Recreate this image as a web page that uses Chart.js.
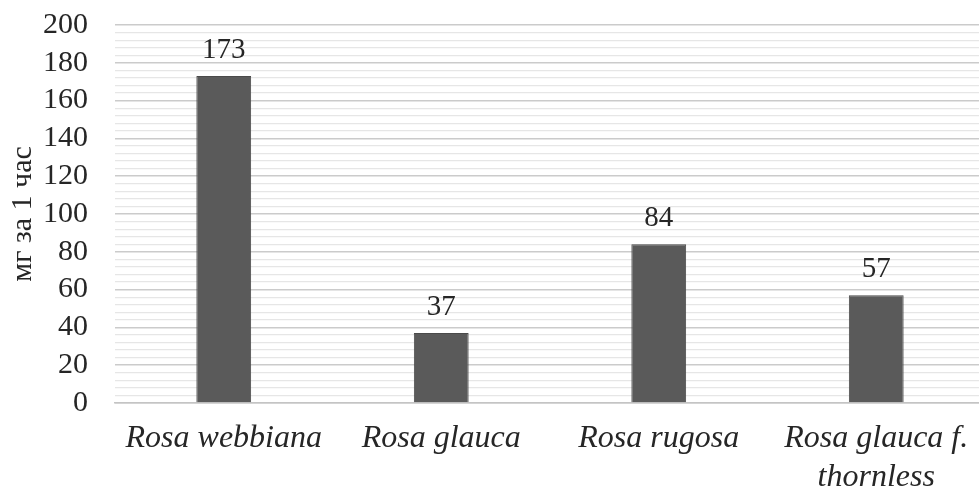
<!DOCTYPE html>
<html>
<head>
<meta charset="utf-8">
<script src="https://cdn.jsdelivr.net/npm/chart.js@4/dist/chart.umd.min.js"></script>
<style>
html,body{margin:0;padding:0;background:#fff;overflow:hidden;}
#wrap{width:985px;height:487px;}
</style>
</head>
<body>
<div id="wrap"><canvas id="c" width="985" height="487"></canvas></div>
<script>
const categories = [
  "Rosa webbiana",
  "Rosa glauca",
  "Rosa rugosa",
  ["Rosa glauca f.", "thornless"]
];
const values = [173, 37, 84, 57];
const yMin = 0, yMax = 200, yMinorStep = 4, yMajorStep = 20;
const yTitle = "мг за 1 час";

const textColor = "#262626";

const dataLabelPlugin = {
  id: "dataLabels",
  afterDatasetsDraw(chart) {
    const ctx = chart.ctx;
    const meta = chart.getDatasetMeta(0);
    ctx.save();
    ctx.font = "29px 'Liberation Serif'";
    ctx.fillStyle = textColor;
    ctx.textAlign = "center";
    ctx.textBaseline = "alphabetic";
    meta.data.forEach((bar, i) => {
      ctx.fillText(String(chart.data.datasets[0].data[i]), bar.x, bar.y - 18);
    });
    ctx.restore();
  }
};

new Chart(document.getElementById("c"), {
  type: "bar",
  data: {
    labels: categories,
    datasets: [{
      data: values,
      backgroundColor: "#5a5a5a",
      borderColor: "#4a4a4a",
      borderWidth: 1,
      barPercentage: 0.252,
      categoryPercentage: 1
    }]
  },
  options: {
    responsive: false,
    devicePixelRatio: 1,
    animation: false,
    layout: { padding: { top: 25, left: 0, right: 0, bottom: 0 } },
    plugins: { legend: { display: false }, tooltip: { enabled: false } },
    scales: {
      x: {
        grid: { display: false, drawTicks: false },
        border: { display: true, color: "#c4c4c4", width: 1.5 },
        ticks: {
          color: textColor,
          font: { family: "'Liberation Serif'", size: 32, style: "italic", lineHeight: 1.22 },
          padding: 16,
          maxRotation: 0,
          autoSkip: false
        },
        afterFit(scale) { scale.height = 84; }
      },
      y: {
        min: yMin,
        max: yMax,
        border: { display: false },
        grid: {
          drawTicks: true,
          tickLength: 27,
          tickColor: "rgba(0,0,0,0)",
          color: (c) => (c.tick && c.tick.value % yMajorStep === 0) ? "#cbcbcb" : "#e6e6e6",
          lineWidth: (c) => (c.tick && c.tick.value % yMajorStep === 0) ? 1.5 : 1.2
        },
        ticks: {
          stepSize: yMinorStep,
          autoSkip: false,
          color: textColor,
          padding: 0,
          font: { family: "'Liberation Serif'", size: 30 },
          callback: (v) => (v % yMajorStep === 0) ? String(v) : ""
        },
        title: {
          display: true,
          text: yTitle,
          color: textColor,
          font: { family: "'Liberation Serif'", size: 30 },
          padding: { top: 5, bottom: 0 }
        },
        afterFit(scale) { scale.width = 115; }
      }
    }
  },
  plugins: [dataLabelPlugin]
});
</script>
</body>
</html>
